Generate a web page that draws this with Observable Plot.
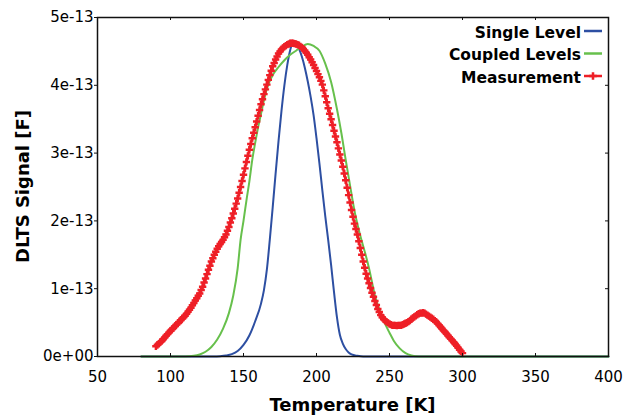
<!DOCTYPE html>
<html>
<head>
<meta charset="utf-8">
<script src="https://cdn.jsdelivr.net/npm/d3@7"></script>
<script src="https://cdn.jsdelivr.net/npm/@observablehq/plot@0.6"></script>
<style>
  html, body { margin: 0; padding: 0; background: #fff; }
</style>
</head>
<body>
<div id="chart"></div>
<script>
// ---- data (signal values in units of 1e-13 F) ----
const temperatureTicks = [50, 100, 150, 200, 250, 300, 350, 400];
const signalTicks = [0, 1, 2, 3, 4, 5];
const signalTickLabels = ["0e+00", "1e-13", "2e-13", "3e-13", "4e-13", "5e-13"];
const seriesNames = ["Single Level", "Coupled Levels", "Measurement"];

const singleT = [80, 130, 134, 138, 142, 146, 150, 154, 158, 162, 164, 166, 168, 170, 172, 174, 176, 178, 180, 182, 184, 186, 188, 190, 192, 194, 196, 198, 200, 202, 204, 206, 208, 210, 212, 214, 216, 218, 220, 222, 224, 228, 232, 400];
const singleV = [0, 0, 0.005, 0.015, 0.035, 0.08, 0.17, 0.31, 0.52, 0.78, 0.98, 1.28, 1.72, 2.2, 2.7, 3.18, 3.62, 4.0, 4.3, 4.52, 4.63, 4.62, 4.54, 4.42, 4.26, 4.06, 3.83, 3.56, 3.22, 2.85, 2.45, 2.07, 1.72, 1.35, 0.95, 0.58, 0.32, 0.19, 0.11, 0.06, 0.03, 0.01, 0, 0];

const coupledT = [80, 110, 116, 120, 124, 128, 132, 136, 140, 143, 146, 148, 150, 152, 154, 156, 158, 160, 162, 164, 166, 170, 174, 178, 182, 186, 190, 194, 198, 202, 206, 210, 214, 217, 220, 223, 226, 230, 233, 236, 240, 244, 247, 250, 253, 257, 261, 265, 270, 400];
const coupledV = [0, 0, 0.01, 0.03, 0.07, 0.14, 0.25, 0.41, 0.64, 0.9, 1.3, 1.72, 2.0, 2.3, 2.58, 2.9, 3.15, 3.38, 3.58, 3.78, 3.95, 4.15, 4.27, 4.37, 4.45, 4.51, 4.57, 4.61, 4.58, 4.51, 4.32, 4.05, 3.65, 3.3, 2.9, 2.52, 2.15, 1.78, 1.55, 1.3, 0.9, 0.64, 0.48, 0.35, 0.23, 0.12, 0.05, 0.015, 0, 0];

// measurement sampled every 1 K from 90 K to 300 K
const measT = d3.range(90, 301);
const measV = [
  0.15, 0.17, 0.19, 0.21, 0.23, 0.255, 0.28, 0.305, 0.33, 0.355,
  0.38, 0.40, 0.42, 0.445, 0.47, 0.49, 0.51, 0.535, 0.56, 0.58,
  0.60, 0.63, 0.66, 0.69, 0.72, 0.755, 0.79, 0.825, 0.86, 0.895,
  0.93, 0.98, 1.03, 1.09, 1.15, 1.215, 1.28, 1.34, 1.40, 1.45,
  1.50, 1.545, 1.59, 1.625, 1.66, 1.69, 1.72, 1.76, 1.80, 1.855,
  1.91, 1.975, 2.04, 2.11, 2.18, 2.255, 2.33, 2.415, 2.50, 2.59,
  2.68, 2.775, 2.87, 2.96, 3.05, 3.135, 3.22, 3.30, 3.38, 3.465,
  3.55, 3.635, 3.72, 3.795, 3.87, 3.94, 4.01, 4.08, 4.15, 4.215,
  4.28, 4.33, 4.38, 4.425, 4.47, 4.50, 4.53, 4.55, 4.57, 4.585,
  4.60, 4.61, 4.62, 4.62, 4.62, 4.615, 4.61, 4.60, 4.59, 4.575,
  4.56, 4.535, 4.51, 4.48, 4.45, 4.415, 4.38, 4.34, 4.30, 4.255,
  4.21, 4.165, 4.12, 4.065, 4.01, 3.925, 3.84, 3.75, 3.66, 3.58,
  3.50, 3.415, 3.33, 3.245, 3.16, 3.07, 2.98, 2.89, 2.80, 2.70,
  2.60, 2.49, 2.38, 2.27, 2.16, 2.06, 1.96, 1.88, 1.80, 1.70,
  1.60, 1.50, 1.40, 1.31, 1.22, 1.15, 1.08, 1.01, 0.94, 0.88,
  0.82, 0.76, 0.70, 0.655, 0.61, 0.58, 0.55, 0.53, 0.51, 0.495,
  0.48, 0.47, 0.46, 0.46, 0.46, 0.455, 0.46, 0.46, 0.46, 0.47,
  0.48, 0.49, 0.50, 0.515, 0.53, 0.55, 0.57, 0.585, 0.60, 0.615,
  0.63, 0.64, 0.64, 0.645, 0.64, 0.625, 0.61, 0.595, 0.58, 0.565,
  0.55, 0.53, 0.51, 0.485, 0.46, 0.435, 0.41, 0.385, 0.36, 0.335,
  0.31, 0.285, 0.26, 0.235, 0.21, 0.185, 0.16, 0.13, 0.10, 0.075,
  0.05
];

const colors = ["#2d4fa2", "#67c04c", "#ee1f27"];
const UNIT = 1e-13;

const toRows = (T, V) => T.map((t, i) => ({T: t, V: V[i] * UNIT}));
const single = toRows(singleT, singleV);
const coupled = toRows(coupledT, coupledV);
const meas = toRows(measT, measV);

const W = 636, H = 418, mL = 97, mR = 28, mT = 17, mB = 62;
const plotW = W - mL - mR, plotH = H - mT - mB;

// custom render mark: axis titles and legend
function annotations(index, scales, values, dimensions) {
  const g = d3.create("svg:g");
  const bold = {"font-family": "DejaVu Sans", "font-weight": "bold", fill: "#000"};
  const xl = g.append("text").attr("x", mL + plotW / 2).attr("y", 411)
    .attr("text-anchor", "middle").attr("font-size", 18).text("Temperature [K]");
  const yl = g.append("text").attr("transform", `translate(28.5,${mT + plotH / 2}) rotate(-90)`)
    .attr("text-anchor", "middle").attr("font-size", 18).text("DLTS Signal [F]");
  for (const t of [xl, yl]) for (const k in bold) t.attr(k, bold[k]);
  const right = W - mR;
  seriesNames.forEach((name, i) => {
    const base = 37.5 + i * 22.5;
    const t = g.append("text").attr("x", right - 27).attr("y", base)
      .attr("text-anchor", "end").attr("font-size", 15.5).text(name);
    for (const k in bold) t.attr(k, bold[k]);
    const ly = base - 6.5;
    g.append("line").attr("x1", right - 24).attr("x2", right - 6)
      .attr("y1", ly).attr("y2", ly).attr("stroke", colors[i]).attr("stroke-width", 2.5);
    if (i === 2) {
      g.append("path").attr("d", d3.symbol(d3.symbolCross, 32)())
        .attr("transform", `translate(${right - 15},${ly})`).attr("fill", colors[i]);
    }
  });
  return g.node();
}

const chart = Plot.plot({
  width: W, height: H,
  marginLeft: mL, marginRight: mR, marginTop: mT, marginBottom: mB,
  style: {fontFamily: "DejaVu Sans", fontSize: "15px", color: "#000", background: "#fff", overflow: "visible"},
  x: {domain: [50, 400]},
  y: {domain: [0, 5 * UNIT]},
  marks: [
    Plot.line(single, {x: "T", y: "V", stroke: colors[0], strokeWidth: 2, curve: "monotone-x"}),
    Plot.line(coupled, {x: "T", y: "V", stroke: colors[1], strokeWidth: 2, curve: "monotone-x"}),
    Plot.line(meas, {x: "T", y: "V", stroke: colors[2], strokeWidth: 2.5, curve: "monotone-x"}),
    Plot.dot(meas, {x: "T", y: "V", symbol: "cross", r: 3.1, fill: colors[2], stroke: "none"}),
    Plot.frame({stroke: "#111", strokeWidth: 1.5}),
    // inward ticks
    Plot.ruleX(temperatureTicks, {x: d => d, insetTop: plotH - 3, stroke: "#111"}),
    Plot.ruleX(temperatureTicks, {x: d => d, insetBottom: plotH - 3, stroke: "#111"}),
    Plot.ruleY(signalTicks.map(d => d * UNIT), {y: d => d, insetLeft: plotW - 3, stroke: "#111"}),
    Plot.axisX(temperatureTicks, {tickSize: 0, tickPadding: 15, label: null, fontSize: 15}),
    Plot.axisY(signalTicks.map(d => d * UNIT), {
      tickSize: 3, tickPadding: 1, label: null, fontSize: 15, stroke: "#111",
      tickFormat: d => signalTickLabels[signalTicks.indexOf(Math.round(d / UNIT))]
    }),
    annotations
  ]
});
document.getElementById("chart").appendChild(chart);
</script>
</body>
</html>
